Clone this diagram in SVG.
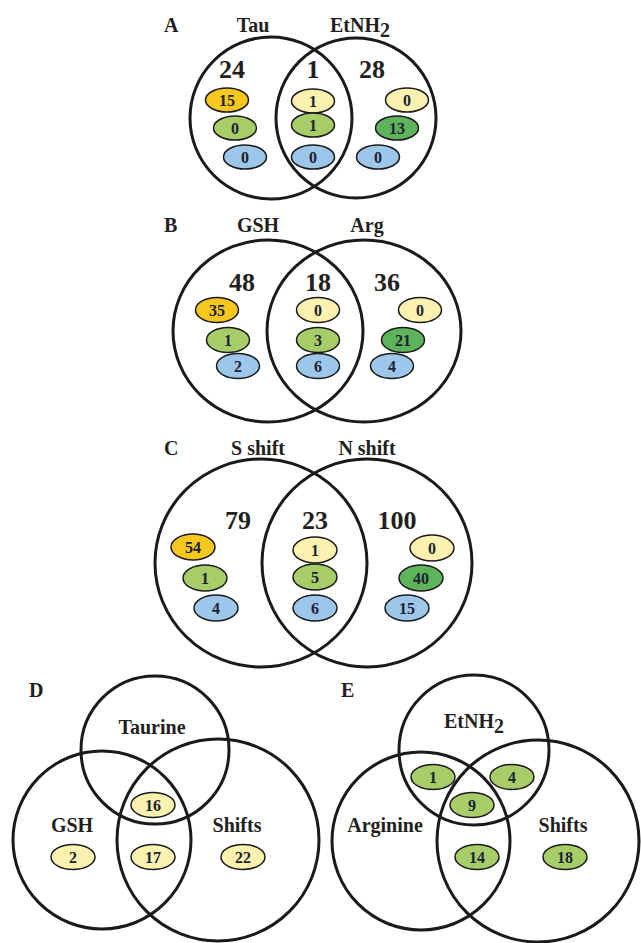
<svg xmlns="http://www.w3.org/2000/svg" width="641" height="943" viewBox="0 0 641 943">
<style>
text{font-family:"Liberation Serif","Times New Roman",serif;font-weight:bold;fill:#231f20;text-anchor:middle}
.c{fill:none;stroke:#1a1a1a;stroke-width:3}
.e{stroke:#1a1a1a;stroke-width:1.5}
.gold{fill:#f6c71c}.ly{fill:#fbf2b0}.lg{fill:#a7cd68}.dg{fill:#5db45a}.bl{fill:#9cc6ea}
.lab{font-size:20px}
.lab2{font-size:20px}
.big{font-size:26px}
.n{font-size:16px;fill:#1c2233}
.p{font-size:20px;text-anchor:start}
</style>
<rect width="641" height="943" fill="#fff"/>
<g id="panelA">
<text class="p" x="164" y="32">A</text>
<text class="lab" x="253" y="32">Tau</text>
<text class="lab" x="360" y="32">EtNH<tspan dy="5">2</tspan></text>
<g id="A-circles"><circle class="c" cx="271" cy="118" r="81"/><circle class="c" cx="356" cy="118" r="80"/></g>
<text class="big" x="232" y="78">24</text><text class="big" x="313" y="78">1</text><text class="big" x="372" y="78">28</text>
<g id="A-n1"><ellipse class="e gold" cx="227" cy="100" rx="21.5" ry="12"/><text class="n" x="227" y="105.5">15</text></g>
<g id="A-n2"><ellipse class="e lg" cx="235" cy="128" rx="21.5" ry="12"/><text class="n" x="235" y="133.5">0</text></g>
<g id="A-n3"><ellipse class="e bl" cx="245" cy="157" rx="21.5" ry="12"/><text class="n" x="245" y="162.5">0</text></g>
<g id="A-n4"><ellipse class="e ly" cx="313" cy="101" rx="21.5" ry="12"/><text class="n" x="313" y="106.5">1</text></g>
<g id="A-n5"><ellipse class="e lg" cx="313" cy="125" rx="21.5" ry="12"/><text class="n" x="313" y="130.5">1</text></g>
<g id="A-n6"><ellipse class="e bl" cx="313" cy="157" rx="21.5" ry="12"/><text class="n" x="313" y="162.5">0</text></g>
<g id="A-n7"><ellipse class="e ly" cx="407" cy="100" rx="21.5" ry="12"/><text class="n" x="407" y="105.5">0</text></g>
<g id="A-n8"><ellipse class="e dg" cx="397" cy="128" rx="21.5" ry="12"/><text class="n" x="397" y="133.5">13</text></g>
<g id="A-n9"><ellipse class="e bl" cx="378" cy="157" rx="21.5" ry="12"/><text class="n" x="378" y="162.5">0</text></g>
</g>
<g id="panelB">
<text class="p" x="164" y="232">B</text>
<text class="lab" x="258" y="232">GSH</text>
<text class="lab" x="367" y="232">Arg</text>
<g id="B-circles"><ellipse class="c" cx="268" cy="331" rx="95" ry="91"/><ellipse class="c" cx="364" cy="331" rx="97" ry="91"/></g>
<text class="big" x="242" y="291">48</text><text class="big" x="318" y="291">18</text><text class="big" x="387" y="291">36</text>
<g id="B-n1"><ellipse class="e gold" cx="217" cy="310" rx="21.5" ry="12.5"/><text class="n" x="217" y="315.5">35</text></g>
<g id="B-n2"><ellipse class="e lg" cx="228" cy="340" rx="21.5" ry="12.5"/><text class="n" x="228" y="345.5">1</text></g>
<g id="B-n3"><ellipse class="e bl" cx="238" cy="366" rx="21.5" ry="12.5"/><text class="n" x="238" y="371.5">2</text></g>
<g id="B-n4"><ellipse class="e ly" cx="318" cy="310" rx="21.5" ry="12.5"/><text class="n" x="318" y="315.5">0</text></g>
<g id="B-n5"><ellipse class="e lg" cx="318" cy="340" rx="21.5" ry="12.5"/><text class="n" x="318" y="345.5">3</text></g>
<g id="B-n6"><ellipse class="e bl" cx="318" cy="366" rx="21.5" ry="12.5"/><text class="n" x="318" y="371.5">6</text></g>
<g id="B-n7"><ellipse class="e ly" cx="420" cy="310" rx="21.5" ry="12.5"/><text class="n" x="420" y="315.5">0</text></g>
<g id="B-n8"><ellipse class="e dg" cx="403" cy="340" rx="21.5" ry="12.5"/><text class="n" x="403" y="345.5">21</text></g>
<g id="B-n9"><ellipse class="e bl" cx="392" cy="366" rx="21.5" ry="12.5"/><text class="n" x="392" y="371.5">4</text></g>
</g>
<g id="panelC">
<text class="p" x="164" y="455">C</text>
<text class="lab" x="258" y="455">S shift</text>
<text class="lab" x="367" y="455">N shift</text>
<g id="C-circles"><ellipse class="c" cx="261" cy="563" rx="106" ry="104"/><ellipse class="c" cx="367" cy="563" rx="105" ry="104"/></g>
<text class="big" x="238" y="529">79</text><text class="big" x="315" y="529">23</text><text class="big" x="397" y="529">100</text>
<g id="C-n1"><ellipse class="e gold" cx="193" cy="547" rx="22" ry="13"/><text class="n" x="193" y="552.5">54</text></g>
<g id="C-n2"><ellipse class="e lg" cx="205" cy="578" rx="22" ry="13"/><text class="n" x="205" y="583.5">1</text></g>
<g id="C-n3"><ellipse class="e bl" cx="216" cy="608" rx="22" ry="13"/><text class="n" x="216" y="613.5">4</text></g>
<g id="C-n4"><ellipse class="e ly" cx="315" cy="550" rx="22" ry="13"/><text class="n" x="315" y="555.5">1</text></g>
<g id="C-n5"><ellipse class="e lg" cx="315" cy="577" rx="22" ry="13"/><text class="n" x="315" y="582.5">5</text></g>
<g id="C-n6"><ellipse class="e bl" cx="315" cy="608" rx="22" ry="13"/><text class="n" x="315" y="613.5">6</text></g>
<g id="C-n7"><ellipse class="e ly" cx="432" cy="548" rx="22" ry="13"/><text class="n" x="432" y="553.5">0</text></g>
<g id="C-n8"><ellipse class="e dg" cx="421" cy="578" rx="22" ry="13"/><text class="n" x="421" y="583.5">40</text></g>
<g id="C-n9"><ellipse class="e bl" cx="407" cy="608" rx="22" ry="13"/><text class="n" x="407" y="613.5">15</text></g>
</g>
<g id="panelD">
<text class="p" x="29" y="697">D</text>
<g id="D-circles"><circle class="c" cx="155" cy="750" r="74"/><circle class="c" cx="102" cy="840" r="89"/><circle class="c" cx="218" cy="840" r="101"/></g>
<text class="lab2" x="152" y="734">Taurine</text>
<text class="lab2" x="72" y="832">GSH</text>
<text class="lab2" x="237" y="832">Shifts</text>
<g id="D-n1"><ellipse class="e ly" cx="153" cy="805" rx="22" ry="12.5"/><text class="n" x="153" y="810.5">16</text></g>
<g id="D-n2"><ellipse class="e ly" cx="73" cy="857" rx="22" ry="12.5"/><text class="n" x="73" y="862.5">2</text></g>
<g id="D-n3"><ellipse class="e ly" cx="153" cy="857" rx="22" ry="12.5"/><text class="n" x="153" y="862.5">17</text></g>
<g id="D-n4"><ellipse class="e ly" cx="243" cy="857" rx="22" ry="12.5"/><text class="n" x="243" y="862.5">22</text></g>
</g>
<g id="panelE">
<text class="p" x="341" y="697">E</text>
<g id="E-circles"><circle class="c" cx="474" cy="750" r="75"/><circle class="c" cx="421" cy="841" r="89"/><circle class="c" cx="538" cy="841" r="101"/></g>
<text class="lab2" x="474" y="728">EtNH<tspan dy="5">2</tspan></text>
<text class="lab2" x="385" y="832">Arginine</text>
<text class="lab2" x="563" y="832">Shifts</text>
<g id="E-n1"><ellipse class="e lg" cx="433" cy="777" rx="22" ry="12.5"/><text class="n" x="433" y="782.5">1</text></g>
<g id="E-n2"><ellipse class="e lg" cx="512" cy="777" rx="22" ry="12.5"/><text class="n" x="512" y="782.5">4</text></g>
<g id="E-n3"><ellipse class="e lg" cx="472" cy="805" rx="22" ry="12.5"/><text class="n" x="472" y="810.5">9</text></g>
<g id="E-n4"><ellipse class="e lg" cx="477" cy="857" rx="22" ry="12.5"/><text class="n" x="477" y="862.5">14</text></g>
<g id="E-n5"><ellipse class="e lg" cx="565" cy="857" rx="22" ry="12.5"/><text class="n" x="565" y="862.5">18</text></g>
</g>
</svg>
